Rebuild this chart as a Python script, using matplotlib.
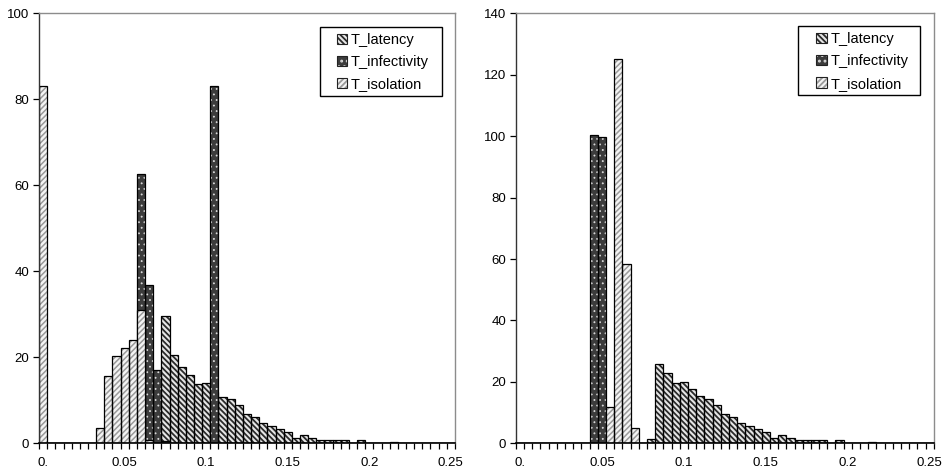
import numpy as np
import matplotlib
matplotlib.use('Agg')
import matplotlib.pyplot as plt
from matplotlib.patches import Patch, Rectangle

plt.rcParams['font.family'] = ['Liberation Sans', 'DejaVu Sans']
plt.rcParams['hatch.linewidth'] = 1.3

# 51 bins of width 0.005 (0 .. 0.25)
n_bins = 51
tick_labels = ['0.', '0.05', '0.1', '0.15', '0.2', '0.25']
series_names = ['T_latency', 'T_infectivity', 'T_isolation']

# left panel
lat_left = [0, 0, 0, 0, 0, 0, 0, 0, 0, 0,
            0, 0, 0, 0, 0, 29.6, 20.5, 17.8, 15.8, 13.8,
            14.0, 12.0, 10.8, 10.2, 8.8, 6.9, 6.1, 4.8, 4.0, 3.3,
            2.6, 1.3, 2.0, 1.3, 0.8, 0.8, 0.8, 0.8, 0, 0.8,
            0, 0, 0, 0.3, 0, 0, 0, 0, 0, 0, 0]
inf_left = [0, 0, 0, 0, 0, 0, 0, 0, 0, 0,
            0, 0, 62.6, 36.7, 17.1, 0.6, 0, 0, 0, 0,
            0, 83.1, 0, 0, 0, 0, 0, 0, 0, 0,
            0, 0, 0, 0, 0, 0, 0, 0, 0, 0,
            0, 0, 0, 0, 0, 0, 0, 0, 0, 0, 0]
iso_left = [83.1, 0, 0, 0, 0, 0, 0, 3.6, 15.7, 20.2,
            22.2, 24.0, 31.0, 0.8, 0, 0, 0, 0, 0, 0,
            0, 0, 0, 0, 0, 0, 0, 0, 0, 0,
            0, 0, 0, 0, 0, 0, 0, 0, 0, 0,
            0, 0, 0, 0, 0, 0, 0, 0, 0, 0, 0]

# right panel
lat_right = [0, 0, 0, 0, 0, 0, 0, 0, 0, 0,
             0, 0, 0, 0, 0, 0, 1.3, 25.8, 22.8, 19.5,
             20.1, 17.6, 15.5, 14.3, 12.4, 9.5, 8.6, 6.6, 5.6, 4.6,
             3.7, 1.8, 2.7, 1.8, 1.0, 1.0, 1.0, 1.0, 0, 1.0,
             0, 0, 0, 0.4, 0, 0, 0, 0, 0, 0, 0]
inf_right = [0, 0, 0, 0, 0, 0, 0, 0, 0, 100.3,
             99.8, 0, 0, 0, 0, 0, 0, 0, 0, 0,
             0, 0, 0, 0, 0, 0, 0, 0, 0, 0,
             0, 0, 0, 0, 0, 0, 0, 0, 0, 0,
             0, 0, 0, 0, 0, 0, 0, 0, 0, 0, 0]
iso_right = [0, 0, 0, 0, 0, 0, 0, 0, 0, 0,
             0, 11.9, 125.1, 58.3, 5.0, 0, 0, 0, 0, 0,
             0, 0, 0, 0, 0, 0, 0, 0, 0, 0,
             0, 0, 0, 0, 0, 0, 0, 0, 0, 0,
             0, 0, 0, 0, 0, 0, 0, 0, 0, 0, 0]

# (face, hatch colour, hatch, hatch linewidth)
styles = [('#e6e6e6', '#2a2a2a', '\\' * 6, 1.3),
          ('#3c3c3c', '#d8d8d8', '...', 0.6),
          ('#f4f4f4', '#9a9a9a', '/' * 6, 1.1)]

fig = plt.figure(figsize=(9.43, 4.71), dpi=100)
ax1 = fig.add_axes([0.0414, 0.0588, 0.441, 0.913])
ax2 = fig.add_axes([0.547, 0.0588, 0.4433, 0.913])


def set_hlw(patch, lw):
    if hasattr(patch, 'set_hatch_linewidth'):
        patch.set_hatch_linewidth(lw)


def draw_panel(ax, series, ymax, box_x, box_y, hx, hy):
    x = np.arange(n_bins) + 0.5
    handles = []
    for vals, (face, hcol, hatch, hlw) in zip(series, styles):
        v = np.array(vals, dtype=float)
        bars = ax.bar(x, v, width=1.0, color=face, edgecolor=hcol, hatch=hatch, linewidth=0)
        for b in bars:
            set_hlw(b, hlw)
        ax.bar(x, v, width=1.0, fill=False, edgecolor='black', linewidth=0.9)
        hp = Patch(facecolor=face, edgecolor=hcol, hatch=hatch, linewidth=0)
        set_hlw(hp, hlw)
        handles.append((hp, Patch(fill=False, edgecolor='#222222', linewidth=0.8)))
    ax.set_xlim(0, n_bins)
    ax.set_ylim(0, ymax)
    ax.set_yticks(np.arange(0, ymax + 1, 20))
    ax.set_xticks(np.arange(0, n_bins + 1))
    ax.set_xticklabels([])
    ax.set_xticks(np.arange(0, n_bins, 10) + 0.5, minor=True)
    ax.set_xticklabels(tick_labels, minor=True)
    ax.tick_params(axis='x', which='major', direction='out', length=4, width=0.9, color='black')
    ax.tick_params(axis='x', which='minor', length=0, pad=10, labelsize=9.5)
    ax.tick_params(axis='y', direction='out', length=4, width=0.9, labelsize=9.5, pad=3)
    for side in ('top', 'right'):
        ax.spines[side].set_color('#8c8c8c')
        ax.spines[side].set_linewidth(1.0)
    ax.spines['left'].set_color('#333333')
    ax.spines['left'].set_linewidth(1.0)
    ax.spines['bottom'].set_color('black')
    ax.spines['bottom'].set_linewidth(1.2)
    # legend frame drawn separately to get Excel-like padding
    ax.add_patch(Rectangle((box_x[0], box_y[0]), box_x[1] - box_x[0], box_y[1] - box_y[0],
                           transform=ax.transAxes, facecolor='white', edgecolor='black',
                           linewidth=1.0, zorder=5))
    leg = ax.legend(handles, series_names, loc='upper left',
                    bbox_to_anchor=(hx, hy), fontsize=10.5,
                    frameon=False, handlelength=0.7, handleheight=0.7,
                    handletextpad=0.25, labelspacing=0.56, borderpad=0,
                    borderaxespad=0)
    leg.set_zorder(6)


draw_panel(ax1, [lat_left, inf_left, iso_left], 100,
           (0.675, 0.969), (0.808, 0.968), 0.716, 0.954)
draw_panel(ax2, [lat_right, inf_right, iso_right], 140,
           (0.675, 0.967), (0.810, 0.970), 0.719, 0.956)

fig.savefig('out.png', dpi=100, facecolor='white')
